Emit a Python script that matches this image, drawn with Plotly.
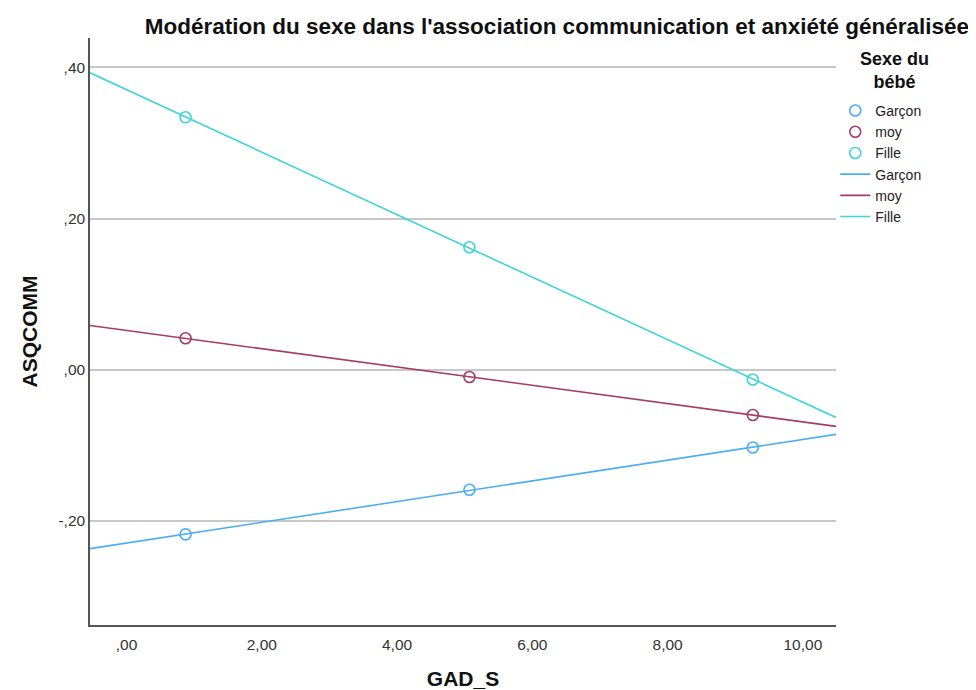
import numpy as np
import plotly.graph_objects as go

# Data
gad_points = [0.873, 5.07, 9.26]
series_names = ["Garçon", "moy", "Fille"]
garcon_vals = [-0.218, -0.159, -0.103]
moy_vals = [0.0415, -0.0098, -0.060]
fille_vals = [0.334, 0.162, -0.013]
series_colors = ["#4AAEF3", "#A53C62", "#3DD5D5"]

x_range = [-0.54, 10.49]
y_range = [-0.338, 0.439]
x_tickvals = [0, 2, 4, 6, 8, 10]
x_ticktext = [",00", "2,00", "4,00", "6,00", "8,00", "10,00"]
y_tickvals = [-0.2, 0.0, 0.2, 0.4]
y_ticktext = ["-,20", ",00", ",20", ",40"]

all_vals = [garcon_vals, moy_vals, fille_vals]

fig = go.Figure()
for name, vals, col in zip(series_names, all_vals, series_colors):
    fig.add_trace(go.Scatter(
        x=gad_points, y=vals, mode="markers", name=name,
        marker=dict(symbol="circle-open", size=11, color=col, line=dict(width=1.6, color=col)),
        legendgroup="m",
    ))
for name, vals, col in zip(series_names, all_vals, series_colors):
    slope, intercept = np.polyfit(gad_points, vals, 1)
    xs = np.array(x_range)
    fig.add_trace(go.Scatter(
        x=xs, y=slope * xs + intercept, mode="lines", name=name,
        line=dict(color=col, width=1.6),
        legendgroup="l",
    ))

fig.add_annotation(
    text="<b>Sexe du<br>bébé</b>", xref="paper", yref="paper",
    x=1.078, y=0.985, xanchor="center", yanchor="top", align="center",
    showarrow=False, font=dict(size=18, color="#111111"),
)

fig.update_layout(
    width=968, height=682,
    margin=dict(l=82, r=140, t=30, b=65, autoexpand=False),
    paper_bgcolor="white", plot_bgcolor="white",
    font=dict(family="Liberation Sans, Arial, sans-serif", color="#222222"),
    title=dict(
        text="<b>Modération du sexe dans l'association communication et anxiété généralisée</b>",
        xref="container", x=0.567, xanchor="center", y=0.974, yanchor="middle",
        font=dict(size=22.5, color="#111111"),
    ),
    showlegend=True,
    legend=dict(
        x=0.999, y=0.903, xanchor="left", yanchor="top",
        font=dict(size=14, color="#222222"),
        tracegroupgap=0, itemwidth=30,
        bgcolor="rgba(0,0,0,0)",
    ),
    xaxis=dict(
        range=x_range, tickvals=x_tickvals, ticktext=x_ticktext,
        showgrid=False, zeroline=False, showline=True, linecolor="#555555", linewidth=1.5,
        ticks="", tickfont=dict(size=15.5, color="#333333"), automargin=False,
        ticklabelstandoff=5,
        title=dict(text="<b>GAD_S</b>", font=dict(size=21, color="#111111"), standoff=19),
    ),
    yaxis=dict(
        range=y_range, tickvals=y_tickvals, ticktext=y_ticktext,
        showgrid=True, gridcolor="#C8C8C8", gridwidth=1.5, zeroline=False,
        showline=True, linecolor="#555555", linewidth=1.5,
        ticks="", tickfont=dict(size=15.5, color="#333333"), automargin=False,
        title=dict(text="<b>ASQCOMM</b>", font=dict(size=21, color="#111111"), standoff=15),
    ),
)

fig.write_html("out.html")
